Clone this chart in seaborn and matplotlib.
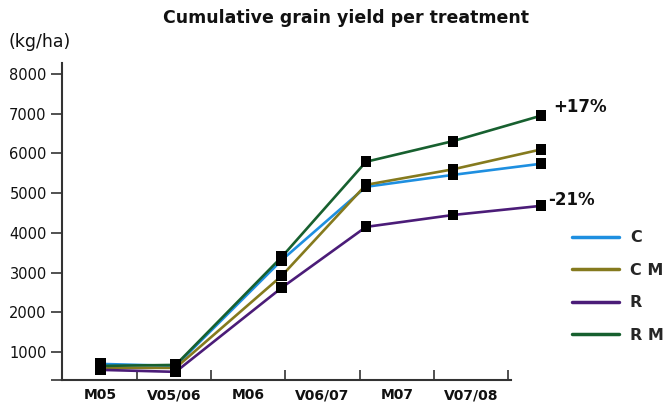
import matplotlib
matplotlib.use("Agg")
import matplotlib.pyplot as plt
import seaborn as sns
import pandas as pd
import numpy as np

# ---- data ----
periods = ["M05", "V05/06", "M06", "V06/07", "M07", "V07/08"]
sample_x = [0.01, 1.02, 2.45, 3.585, 4.757, 5.943]  # sampling positions along the period axis
treatments = ["C", "C M", "R", "R M"]
yield_C = [700, 650, 3315, 5160, 5460, 5740]
yield_CM = [600, 600, 2920, 5210, 5600, 6100]
yield_R = [550, 500, 2620, 4150, 4450, 4680]
yield_RM = [650, 675, 3395, 5790, 6310, 6950]
y_ticks = [1000, 2000, 3000, 4000, 5000, 6000, 7000, 8000]
change_labels = {"R M": "+17%", "R": "-21%"}

colors = {"C": "#1e8fe0", "C M": "#857a1e", "R": "#4b1c78", "R M": "#17602f"}

series = {"C": yield_C, "C M": yield_CM, "R": yield_R, "R M": yield_RM}
rows = []
for t in treatments:
    for p, x, v in zip(periods, sample_x, series[t]):
        rows.append({"treatment": t, "period": p, "x": x, "yield": v})
df = pd.DataFrame(rows)

sns.set_style("white")
plt.rcParams["font.family"] = ["DejaVu Sans"]

fig = plt.figure(figsize=(6.66, 4.08), dpi=100)
ax = fig.add_axes([62 / 666, 28 / 408, (511 - 62) / 666, (380 - 63) / 408])

sns.lineplot(data=df, x="x", y="yield", hue="treatment", hue_order=treatments,
             palette=colors, linewidth=1.9, ax=ax, legend=True, sort=False)
for ln in ax.lines:
    ln.set_clip_on(False)

sns.scatterplot(data=df, x="x", y="yield", marker="s", color="black", s=62,
                edgecolor="none", ax=ax, legend=False, clip_on=False, zorder=5)

ax.set_xlim(-0.512, 5.539)
ax.set_ylim(295, 8277)

# x: labels at category centres, tick marks between
ax.set_xticks(range(len(periods)))
ax.set_xticklabels(periods, fontsize=10, fontweight="bold")
ax.set_xticks([i + 0.5 for i in range(len(periods))], minor=True)
ax.tick_params(axis="x", which="major", bottom=True, length=0, pad=6, labelcolor="#111111")
ax.tick_params(axis="x", which="minor", bottom=True, direction="in", length=7, width=1.2, color="#333333")

ax.set_yticks([295] + y_ticks)
ax.set_yticklabels([""] + [str(v) for v in y_ticks], fontsize=10.5)
ax.tick_params(axis="y", which="major", left=True, direction="out", length=8, width=1.2,
               color="#333333", pad=3, labelcolor="#111111")

for s in ["top", "right"]:
    ax.spines[s].set_visible(False)
for s in ["left", "bottom"]:
    ax.spines[s].set_color("#333333")
    ax.spines[s].set_linewidth(1.5)

ax.set_xlabel("")
ax.set_ylabel("")

# annotations at last point
for t, txt in change_labels.items():
    dx, dy = (9, 6) if txt.startswith("+") else (5, 4)
    ax.annotate(txt, xy=(sample_x[-1], series[t][-1]), xytext=(dx, dy),
                textcoords="offset points", fontsize=12, fontweight="bold",
                ha="left", va="center", color="#111111", annotation_clip=False)

# legend
handles, labels = ax.get_legend_handles_labels()
leg = ax.legend(handles, labels, loc="upper left", bbox_to_anchor=(558 / 666, (408 - 216) / 408),
                bbox_transform=fig.transFigure, frameon=False, handlelength=2.9,
                handletextpad=0.7, labelspacing=1.09,
                prop={"weight": "bold", "size": 11.5})
for h in leg.get_lines():
    h.set_linewidth(2.5)

fig.text(346 / 666, 1 - 18 / 408, "Cumulative grain yield per treatment",
         ha="center", va="center", fontsize=12.5, fontweight="bold", color="#111111")
fig.text(8 / 666, 1 - 42 / 408, "(kg/ha)", ha="left", va="center", fontsize=12.5, color="#111111")

fig.savefig("out.png", dpi=100)
